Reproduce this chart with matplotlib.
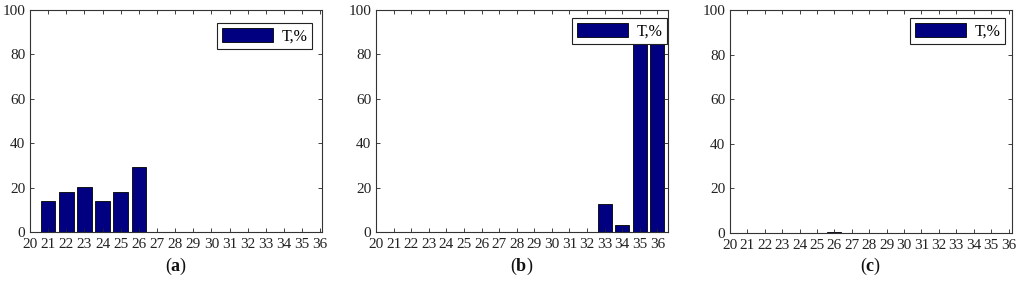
import matplotlib
matplotlib.use("Agg")
import matplotlib.pyplot as plt
import numpy as np

plt.rcParams['font.family'] = ['Liberation Serif', 'DejaVu Serif']
plt.rcParams['mathtext.fontset'] = 'custom'
plt.rcParams['mathtext.rm'] = 'Liberation Serif'
plt.rcParams['mathtext.bf'] = 'Liberation Serif:bold'

categories = list(range(21, 37))
tick_labels = [str(v) for v in range(20, 37)]
yticks = [0, 20, 40, 60, 80, 100]

values_a = [13.8, 18.2, 20.3, 13.8, 18.2, 29.4, 0, 0, 0, 0, 0, 0, 0, 0, 0, 0]
values_b = [0, 0, 0, 0, 0, 0, 0, 0, 0, 0, 0, 0, 12.7, 3.0, 90, 92]
values_c = [0, 0, 0, 0, 0, 0.5, 0, 0, 0, 0, 0, 0, 0, 0, 0, 0]

legend_label = "T,%"
captions = ["a", "b", "c"]

W, H = 1024, 285
fig = plt.figure(figsize=(W / 100, H / 100), dpi=100)

# axes boxes in pixels: left, right, top, bottom
boxes = [(30, 322, 10, 232), (376, 668, 10, 232), (730, 1012, 10, 233)]
xlims = [(20, 36.1), (20, 36.6), (20, 36.2)]
legend_anchor = [(312, 23), (667, 18), (1005, 18)]
series = [values_a, values_b, values_c]

for (l, r, t, b), xl, (lx, ly), vals, cap in zip(boxes, xlims, legend_anchor, series, captions):
    ax = fig.add_axes([l / W, 1 - b / H, (r - l) / W, (b - t) / H])
    ax.bar(categories, vals, width=0.8, color='#000080', edgecolor='black',
           linewidth=0.6, label=legend_label)
    ax.set_xlim(*xl)
    ax.set_ylim(0, 100)
    ax.set_xticks(range(20, 37))
    ax.set_xticklabels(tick_labels)
    ax.set_yticks(yticks)
    ax.tick_params(direction='in', top=True, right=True, length=3, width=0.6,
                   labelsize=11, colors='#222222')
    ax.tick_params(axis='x', pad=4.5)
    ax.tick_params(axis='y', pad=3.5)
    for s in ax.spines.values():
        s.set_color('#333333')
        s.set_linewidth(0.8)
    ax_x = (lx - l) / (r - l)
    ax_y = (b - ly) / (b - t)
    leg = ax.legend(loc='upper right', bbox_to_anchor=(ax_x, ax_y),
                    borderaxespad=0, fancybox=False, framealpha=1,
                    edgecolor='#222222', fontsize=11.5, handlelength=3.2,
                    handleheight=0.95, borderpad=0.3, handletextpad=0.5)
    leg.get_frame().set_linewidth(0.8)
    fig.text((l + r) / 2 / W, 1 - 266 / H, r"($\mathbf{%s}$)" % cap,
             ha='center', va='center', fontsize=13, color='#111111')

fig.savefig("out.png", dpi=100)
